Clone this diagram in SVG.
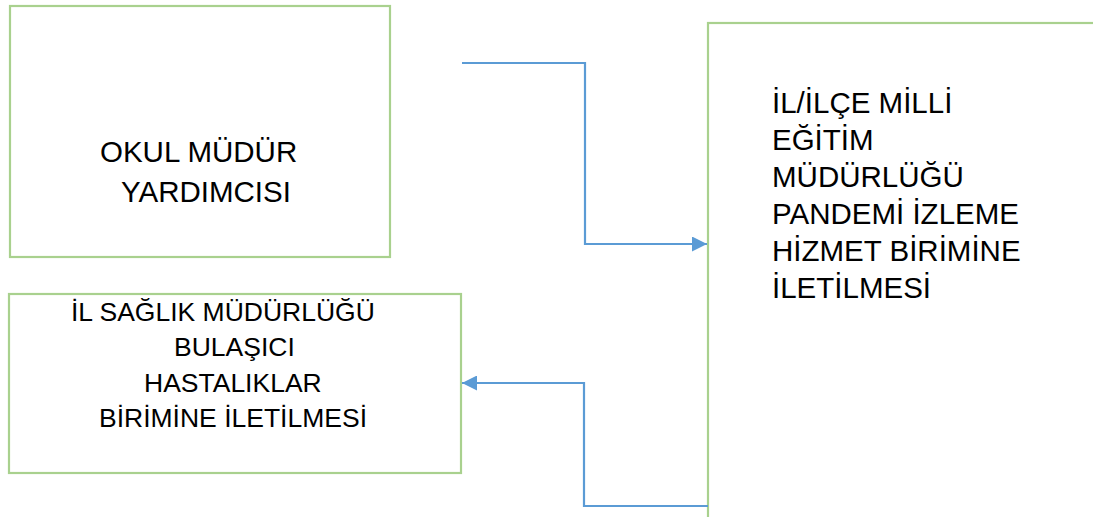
<svg xmlns="http://www.w3.org/2000/svg" width="1093" height="517" viewBox="0 0 1093 517">
<style>
.box{fill:#fff;stroke:#A9D18E;stroke-width:2.2}
.conn{fill:none;stroke:#5B9BD5;stroke-width:2.2}
.t{font-family:"Liberation Sans",Arial,sans-serif;fill:#000}
</style>
<defs>
<marker id="ah" viewBox="0 0 10 10" refX="10" refY="5" markerWidth="15" markerHeight="15" markerUnits="userSpaceOnUse" orient="auto">
<path d="M0,0 L10,5 L0,10 z" fill="#5B9BD5"/>
</marker>
</defs>
<rect width="1093" height="517" fill="#fff"/>
<g id="node-okul">
<rect class="box" x="10" y="6" width="380" height="251"/>
<text class="t" font-size="29.5" x="100" y="162">OKUL MÜDÜR</text>
<text class="t" font-size="29.5" x="121" y="202">YARDIMCISI</text>
</g>
<g id="node-saglik">
<rect class="box" x="9" y="294" width="452" height="179"/>
<text class="t" font-size="26.5" x="71" y="321">İL SAĞLIK MÜDÜRLÜĞÜ</text>
<text class="t" font-size="26.5" x="174" y="356">BULAŞICI</text>
<text class="t" font-size="26.5" x="144" y="392">HASTALIKLAR</text>
<text class="t" font-size="26.5" x="99" y="427">BİRİMİNE İLETİLMESİ</text>
</g>
<g id="node-mem">
<rect class="box" x="708" y="23" width="400" height="510"/>
<text class="t" font-size="29.5" x="772" y="113">İL/İLÇE MİLLİ</text>
<text class="t" font-size="29.5" x="772" y="150">EĞİTİM</text>
<text class="t" font-size="29.5" x="772" y="187">MÜDÜRLÜĞÜ</text>
<text class="t" font-size="29.5" x="772" y="224">PANDEMİ İZLEME</text>
<text class="t" font-size="29.5" x="772" y="261">HİZMET BİRİMİNE</text>
<text class="t" font-size="29.5" x="772" y="298">İLETİLMESİ</text>
</g>
<g id="connectors">
<polyline class="conn" points="462,63 585,63 585,244 707,244" marker-end="url(#ah)"/>
<polyline class="conn" points="708,506 584,506 584,383 462,383" marker-end="url(#ah)"/>
</g>
</svg>
